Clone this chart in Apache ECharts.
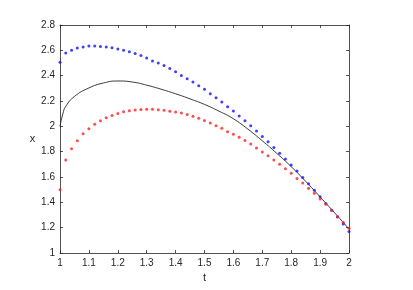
<!DOCTYPE html>
<html>
<head>
<meta charset="utf-8">
<script src="https://cdn.jsdelivr.net/npm/echarts@6/dist/echarts.min.js"></script>
<style>html,body{margin:0;padding:0;background:#fff}#c{width:413px;height:290px}</style>
</head>
<body>
<div id="c"></div>
<script>
var tDots = [1.00,1.02,1.04,1.06,1.08,1.10,1.12,1.14,1.16,1.18,1.20,1.22,1.24,1.26,1.28,1.30,1.32,1.34,1.36,1.38,1.40,1.42,1.44,1.46,1.48,1.50,1.52,1.54,1.56,1.58,1.60,1.62,1.64,1.66,1.68,1.70,1.72,1.74,1.76,1.78,1.80,1.82,1.84,1.86,1.88,1.90,1.92,1.94,1.96,1.98,2.00];
var blueValues = [2.505,2.579,2.600,2.618,2.627,2.634,2.634,2.631,2.626,2.620,2.610,2.600,2.588,2.575,2.560,2.540,2.516,2.500,2.480,2.457,2.430,2.402,2.376,2.350,2.321,2.292,2.258,2.226,2.192,2.155,2.121,2.082,2.045,2.004,1.963,1.920,1.879,1.832,1.787,1.742,1.695,1.648,1.597,1.547,1.495,1.445,1.390,1.337,1.284,1.229,1.169];
var redValues = [1.500,1.734,1.824,1.887,1.941,1.980,2.016,2.044,2.068,2.086,2.102,2.116,2.124,2.129,2.133,2.134,2.134,2.131,2.126,2.120,2.113,2.105,2.094,2.079,2.063,2.047,2.026,2.005,1.984,1.958,1.937,1.913,1.888,1.861,1.829,1.798,1.768,1.734,1.700,1.666,1.629,1.589,1.553,1.511,1.471,1.427,1.384,1.337,1.289,1.242,1.195];
var tLine = [1.00,1.01,1.02,1.05,1.10,1.15,1.20,1.25,1.30,1.35,1.40,1.45,1.50,1.55,1.60,1.65,1.70,1.75,1.80,1.85,1.90,1.95,2.00];
var lineValues = [2.00,2.10,2.158,2.236,2.303,2.342,2.358,2.350,2.325,2.293,2.257,2.217,2.173,2.120,2.060,1.978,1.886,1.787,1.682,1.566,1.443,1.318,1.190];
var xTicks = ['1','1.1','1.2','1.3','1.4','1.5','1.6','1.7','1.8','1.9','2'];
var yTicks = ['1','1.2','1.4','1.6','1.8','2','2.2','2.4','2.6','2.8'];

function pairs(xs, ys){ return xs.map(function(x,i){ return [x, ys[i]]; }); }

var axisCol = '#262626';
var font = 'Liberation Sans, Arial, sans-serif';
var chart = echarts.init(document.getElementById('c'), null, {renderer:'canvas'});
chart.setOption({
  animation:false,
  backgroundColor:'#fff',
  grid:{left:60, right:64, top:25, bottom:37, show:false},
  xAxis:[{
    type:'value', min:1, max:2, interval:0.1, position:'bottom',
    name:'t', nameLocation:'middle', nameGap:19,
    nameTextStyle:{color:axisCol, fontSize:11, fontFamily:font},
    axisLine:{show:true, onZero:false, lineStyle:{color:axisCol, width:0.8}},
    axisTick:{show:true, inside:true, length:3, lineStyle:{color:axisCol, width:0.8}},
    axisLabel:{color:axisCol, fontSize:10, fontFamily:font, margin:5,
      formatter:function(v){ var i=Math.round((v-1)*10); return xTicks[i]; }},
    splitLine:{show:false}
  },{
    type:'value', min:1, max:2, interval:0.1, position:'top',
    axisLine:{show:true, onZero:false, lineStyle:{color:axisCol, width:0.8}},
    axisTick:{show:true, inside:true, length:3, lineStyle:{color:axisCol, width:0.8}},
    axisLabel:{show:false}, splitLine:{show:false}
  }],
  yAxis:[{
    type:'value', min:1, max:2.8, interval:0.2, position:'left',
    name:'x', nameLocation:'middle', nameGap:24, nameRotate:0,
    nameTextStyle:{color:axisCol, fontSize:11, fontFamily:font},
    axisLine:{show:true, onZero:false, lineStyle:{color:axisCol, width:0.8}},
    axisTick:{show:true, inside:true, length:3, lineStyle:{color:axisCol, width:0.8}},
    axisLabel:{color:axisCol, fontSize:10, fontFamily:font, margin:5,
      formatter:function(v){ var i=Math.round((v-1)/0.2); return yTicks[i]; }},
    splitLine:{show:false}
  },{
    type:'value', min:1, max:2.8, interval:0.2, position:'right',
    axisLine:{show:true, onZero:false, lineStyle:{color:axisCol, width:0.8}},
    axisTick:{show:true, inside:true, length:3, lineStyle:{color:axisCol, width:0.8}},
    axisLabel:{show:false}, splitLine:{show:false}
  }],
  series:[{
    type:'line', data:pairs(tLine, lineValues), smooth:0.5, showSymbol:false,
    lineStyle:{color:'#222', width:0.9}, z:2
  },{
    type:'scatter', data:pairs(tDots, blueValues), symbol:'circle', symbolSize:3,
    itemStyle:{color:'#1010ff'}, z:3
  },{
    type:'scatter', data:pairs(tDots, redValues), symbol:'circle', symbolSize:3,
    itemStyle:{color:'#ff2020'}, z:3
  }]
});
</script>
</body>
</html>
